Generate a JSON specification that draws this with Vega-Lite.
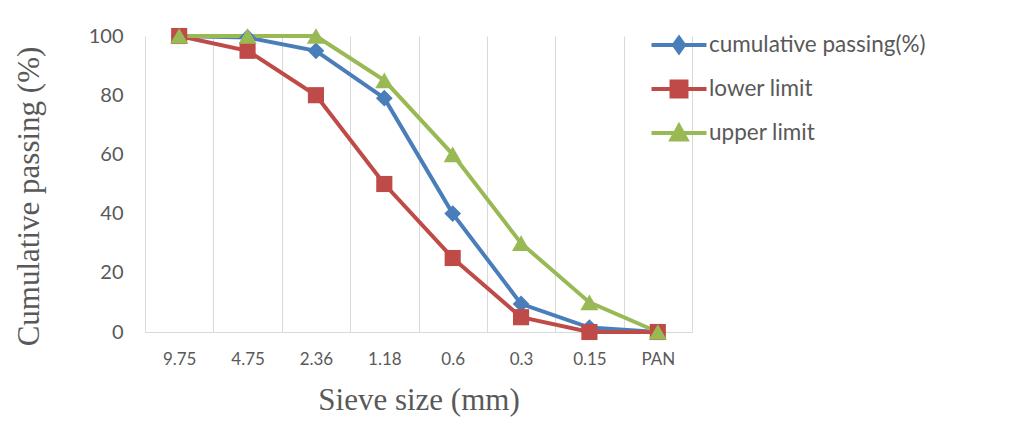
{
  "$schema": "https://vega.github.io/schema/vega-lite/v6.json",
  "autosize": "none",
  "width": 547,
  "height": 296,
  "padding": {"left": 145, "top": 36, "right": 335, "bottom": 116},
  "background": "white",
  "config": {"view": {"stroke": null}},
  "data": {"values": [
    {"size": "9.75", "series": "cumulative passing(%)", "value": 100},
    {"size": "4.75", "series": "cumulative passing(%)", "value": 99.5},
    {"size": "2.36", "series": "cumulative passing(%)", "value": 95},
    {"size": "1.18", "series": "cumulative passing(%)", "value": 79},
    {"size": "0.6", "series": "cumulative passing(%)", "value": 40},
    {"size": "0.3", "series": "cumulative passing(%)", "value": 9.5},
    {"size": "0.15", "series": "cumulative passing(%)", "value": 1.5},
    {"size": "PAN", "series": "cumulative passing(%)", "value": 0},
    {"size": "9.75", "series": "lower limit", "value": 100},
    {"size": "4.75", "series": "lower limit", "value": 95},
    {"size": "2.36", "series": "lower limit", "value": 80},
    {"size": "1.18", "series": "lower limit", "value": 50},
    {"size": "0.6", "series": "lower limit", "value": 25},
    {"size": "0.3", "series": "lower limit", "value": 5},
    {"size": "0.15", "series": "lower limit", "value": 0},
    {"size": "PAN", "series": "lower limit", "value": 0},
    {"size": "9.75", "series": "upper limit", "value": 100},
    {"size": "4.75", "series": "upper limit", "value": 100},
    {"size": "2.36", "series": "upper limit", "value": 100},
    {"size": "1.18", "series": "upper limit", "value": 85},
    {"size": "0.6", "series": "upper limit", "value": 60},
    {"size": "0.3", "series": "upper limit", "value": 30},
    {"size": "0.15", "series": "upper limit", "value": 10},
    {"size": "PAN", "series": "upper limit", "value": 0}
  ]},
  "encoding": {
    "x": {
      "field": "size", "type": "ordinal",
      "sort": ["9.75", "4.75", "2.36", "1.18", "0.6", "0.3", "0.15", "PAN"],
      "scale": {"paddingInner": 0, "paddingOuter": 0},
      "axis": {
        "title": "Sieve size (mm)",
        "titleFont": "Liberation Serif", "titleFontSize": 31, "titleFontWeight": "normal", "titleColor": "#595959", "titlePadding": 18,
        "labelFont": "Lato", "labelFontSize": 17, "labelColor": "#595959", "labelAngle": 0, "labelPadding": 19,
        "ticks": false, "tickBand": "extent",
        "grid": true, "gridColor": "#D9D9D9", "gridWidth": 1,
        "domainColor": "#D9D9D9", "domainWidth": 1
      }
    },
    "y": {
      "field": "value", "type": "quantitative",
      "scale": {"domain": [0, 100]},
      "axis": {
        "values": [0, 20, 40, 60, 80, 100],
        "title": "Cumulative passing (%)",
        "titleFont": "Liberation Serif", "titleFontSize": 31, "titleFontWeight": "normal", "titleColor": "#595959", "titlePadding": 43, "titleY": 160,
        "labelFont": "Lato", "labelFontSize": 20, "labelColor": "#595959", "labelPadding": 22,
        "ticks": false, "domain": false, "grid": false
      }
    },
    "color": {
      "field": "series", "type": "nominal",
      "scale": {"domain": ["cumulative passing(%)", "lower limit", "upper limit"], "range": ["#4A7EBB", "#BE4B48", "#98B954"]},
      "legend": {
        "orient": "none", "legendX": 510, "legendY": -15, "title": null, "padding": 0,
        "rowPadding": 4, "symbolSize": 1936, "labelOffset": 6, "labelLimit": 400,
        "labelFont": "Lato", "labelFontSize": 22.5, "labelColor": "#595959", "symbolStrokeWidth": 4,
        "encode": {"symbols": {"update": {
          "shape": {"signal": "datum.value === 'cumulative passing(%)' ? 'M-1.25,0H1.25M0,-0.32L0.23,0L0,0.32L-0.23,0Z' : datum.value === 'lower limit' ? 'M-1.25,0H1.25M-0.34,-0.34H0.34V0.34H-0.34Z' : 'M-1.25,0H1.25M0,-0.32L0.34,0.3H-0.34Z'"},
          "fill": {"scale": "color", "field": "value"},
          "stroke": {"scale": "color", "field": "value"},
          "strokeWidth": {"value": 4},
          "opacity": {"value": 1}
        }}}
      }
    }
  },
  "layer": [
    {"mark": {"type": "line", "strokeWidth": 4}},
    {
      "transform": [{"filter": "datum.series === 'cumulative passing(%)'"}],
      "mark": {"type": "point", "filled": true, "opacity": 1, "shape": "diamond", "size": 280}
    },
    {
      "transform": [{"filter": "datum.series === 'lower limit'"}],
      "mark": {"type": "point", "filled": true, "opacity": 1, "shape": "square", "size": 260}
    },
    {
      "transform": [{"filter": "datum.series === 'upper limit'"}],
      "mark": {"type": "point", "filled": true, "opacity": 1, "shape": "triangle-up", "size": 330}
    }
  ]
}
